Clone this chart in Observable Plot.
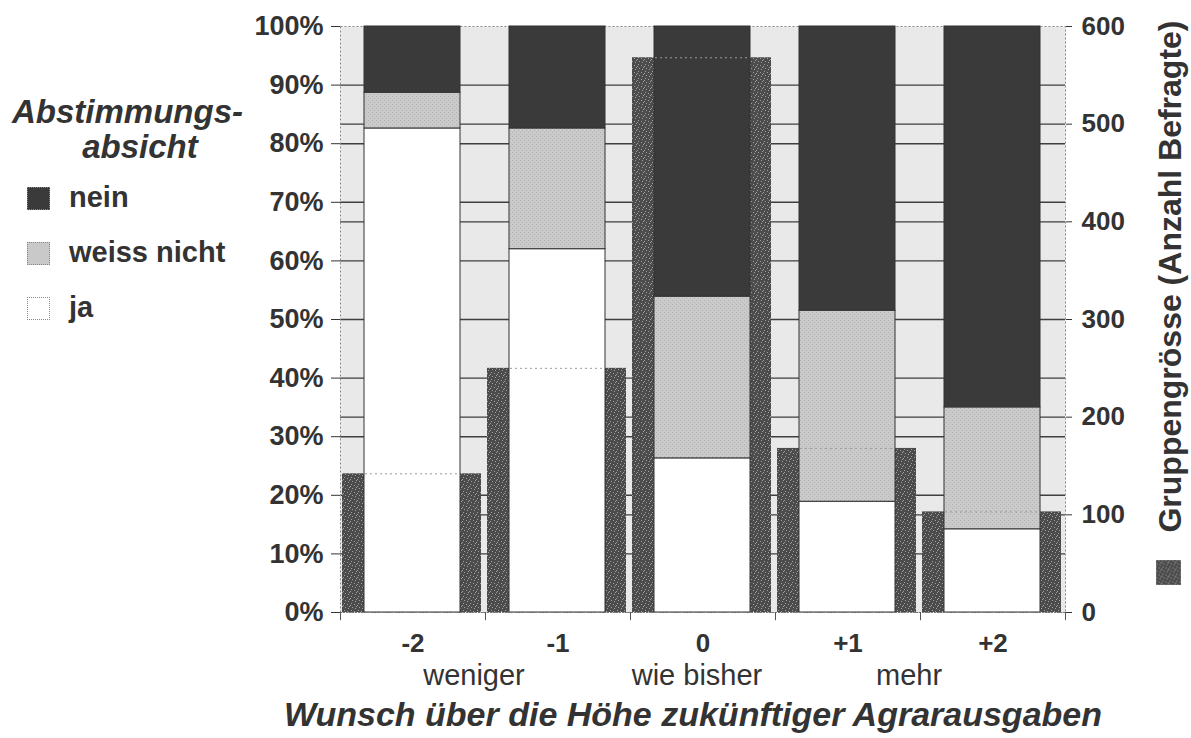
<!DOCTYPE html>
<html>
<head>
<meta charset="utf-8">
<script src="https://cdn.jsdelivr.net/npm/d3@7"></script>
<script src="https://cdn.jsdelivr.net/npm/@observablehq/plot@0.6"></script>
<style>
  body { margin: 0; background: #fff; }
  #wrap { position: relative; width: 1191px; height: 738px; overflow: hidden; font-family: "Liberation Sans", Arial, sans-serif; color: #333; }
  #chart { position: absolute; left: 0; top: 0; }
  .lt { position: absolute; font: italic bold 33px/1 "Liberation Sans", Arial, sans-serif; white-space: nowrap; text-align: center; }
  .li { position: absolute; left: 27px; height: 24px; }
  .li .sw { position: absolute; left: 0; top: 0; width: 23px; height: 23px; box-sizing: border-box; border: 1px dotted #888; }
  .li .tx { position: absolute; left: 42px; top: -4px; font: bold 29px/1 "Liberation Sans", Arial, sans-serif; white-space: nowrap; }
</style>
</head>
<body>
<div id="wrap">
  <div id="chart"></div>
  <div id="legend"></div>
</div>
<script>
// ---- data ----
const categories = ["-2", "-1", "0", "+1", "+2"];
const answers = ["nein", "weiss nicht", "ja"];          // legend order (top to bottom)
const pctJa = [82.6, 62.0, 26.3, 18.9, 14.2];
const pctWeissNicht = [6.1, 20.6, 27.6, 32.6, 20.8];
const pctNein = [11.3, 17.4, 46.1, 48.5, 65.0];
const groupSize = [142, 250, 568, 168, 103];             // Anzahl Befragte
const leftTicks = [0, 10, 20, 30, 40, 50, 60, 70, 80, 90, 100];
const rightTicks = [0, 100, 200, 300, 400, 500, 600];
const rightMax = 600;
const scaleWords = ["weniger", "wie bisher", "mehr"];
const scaleWordAt = ["-2", "0", "+1"];
const legendTitle = ["Abstimmungs-", "absicht"];
const xTitle = "Wunsch über die Höhe zukünftiger Agrarausgaben";
const rightTitle = "Gruppengrösse (Anzahl Befragte)";

// ---- tables built from the arrays ----
const pctRows = [];
categories.forEach((c, i) => {
  pctRows.push({cat: c, answer: "ja", value: pctJa[i]});
  pctRows.push({cat: c, answer: "weiss nicht", value: pctWeissNicht[i]});
  pctRows.push({cat: c, answer: "nein", value: pctNein[i]});
});
const countRows = categories.map((c, i) => ({cat: c, n: groupSize[i]}));
const toPct = n => n * 100 / rightMax;
const gridValues = Array.from(new Set([...leftTicks.slice(1, -1), ...rightTicks.slice(1, -1).map(toPct)]));
const wordRows = scaleWords.map((w, i) => ({word: w, cat: scaleWordAt[i]}));

const W = 1191, H = 738, mL = 340, mR = 126, mT = 26, mB = 126;
const band = (W - mL - mR) / categories.length;

const colorRange = {"ja": "#ffffff", "weiss nicht": "url(#stipple)", "nein": "#3a3a3a"};

const svg = Plot.plot({
  width: W, height: H,
  marginLeft: mL, marginRight: mR, marginTop: mT, marginBottom: mB,
  x: {domain: categories, padding: 0, axis: null, label: null},
  y: {domain: [0, 100], axis: null, label: null},
  color: {domain: ["ja", "weiss nicht", "nein"], range: ["ja", "weiss nicht", "nein"].map(k => colorRange[k])},
  style: {fontFamily: "'Liberation Sans', Arial, sans-serif", fontSize: "26px", fontWeight: "bold", color: "#333", background: "transparent", overflow: "visible"},
  marks: [
    Plot.frame({fill: "url(#bgpat)", stroke: "none"}),
    Plot.ruleY(gridValues, {stroke: "#3f3f3f", strokeWidth: 1.4}),
    Plot.frame({stroke: "#888", strokeDasharray: "2,2", strokeWidth: 1}),
    Plot.barY(countRows, {x: "cat", y: d => toPct(d.n), fill: "url(#speckle)", insetLeft: 2, insetRight: 4}),
    Plot.barY(pctRows, {x: "cat", y: "value", fill: "answer", stroke: "#333", strokeWidth: 1, insetLeft: 24, insetRight: 25}),
    Plot.tickY(countRows, {x: "cat", y: d => toPct(d.n), stroke: "#9a9a9a", strokeDasharray: "2,3", strokeWidth: 1, insetLeft: 25, insetRight: 26}),
    Plot.ruleY([0], {stroke: "#777", strokeDasharray: "2,1"}),
    Plot.axisY({anchor: "left", ticks: leftTicks, tickSize: 9, tickPadding: 8, tickFormat: d => d + "%", label: null, fontSize: 27, fontWeight: "bold"}),
    Plot.axisY({anchor: "right", ticks: rightTicks.map(toPct), tickSize: 6, tickPadding: 10, tickFormat: d => Math.round(d * rightMax / 100), label: null, fontSize: 26, fontWeight: "bold"}),
    Plot.axisX({anchor: "bottom", tickSize: 0, tickPadding: 21, label: null, fontSize: 26, fontWeight: "bold"}),
    Plot.ruleX(categories, {x: d => d, dx: -band / 2, y1: 0, y2: -1.4, stroke: "#555"}),
    Plot.ruleX(categories.slice(-1), {x: d => d, dx: band / 2, y1: 0, y2: -1.4, stroke: "#555"}),
    Plot.text(wordRows.filter(d => d.cat !== "0"), {x: "cat", text: "word", frameAnchor: "bottom", lineAnchor: "top", dx: 61, dy: 52, fontSize: 29, fontWeight: "normal", fill: "#333"}),
    Plot.text(wordRows.filter(d => d.cat === "0"), {x: "cat", text: "word", frameAnchor: "bottom", lineAnchor: "top", dx: -6, dy: 52, fontSize: 29, fontWeight: "normal", fill: "#333"}),
    Plot.text([xTitle], {frameAnchor: "bottom", textAnchor: "middle", lineAnchor: "top", dx: -10, dy: 89, fontSize: 34, fontWeight: "bold", fontStyle: "italic", fill: "#333"}),
    Plot.text([rightTitle], {frameAnchor: "right", textAnchor: "middle", rotate: -90, dx: 105, dy: -43, fontSize: 32, fontWeight: "bold", fill: "#333"}),
    Plot.dot([0], {frameAnchor: "bottom-right", dx: 103, dy: -40, symbol: "square", r: 14, fill: "url(#speckle)", stroke: "none"})
  ]
});

// texture patterns
const defs = d3.select(svg).insert("defs", ":first-child");
function pattern(id, size, bg, dotColor, dots) {
  const p = defs.append("pattern").attr("id", id).attr("patternUnits", "userSpaceOnUse")
    .attr("width", size).attr("height", size);
  p.append("rect").attr("width", size).attr("height", size).attr("fill", bg);
  dots.forEach(([x, y]) => p.append("rect").attr("x", x).attr("y", y).attr("width", 1).attr("height", 1).attr("fill", dotColor));
}
pattern("speckle", 7, "#4c4c4c", "#a0a0a0", [[1, 1], [4, 2], [2, 5], [6, 4], [5, 6], [0, 3]]);
pattern("stipple", 4, "#cacaca", "#b2b2b2", [[0, 0], [2, 2]]);
pattern("bgpat", 4, "#ebebeb", "#d9d9d9", [[1, 1], [3, 3]]);

document.getElementById("chart").appendChild(svg);

// legend (HTML)
const legend = document.getElementById("legend");
const lt1 = document.createElement("div");
lt1.className = "lt"; lt1.textContent = legendTitle[0];
lt1.style.left = "0px"; lt1.style.width = "255px"; lt1.style.top = "95px";
legend.appendChild(lt1);
const lt2 = document.createElement("div");
lt2.className = "lt"; lt2.textContent = legendTitle[1];
lt2.style.left = "0px"; lt2.style.width = "280px"; lt2.style.top = "130px";
legend.appendChild(lt2);
const swatchCss = {"nein": "#3a3a3a", "weiss nicht": "#c9c9c9", "ja": "#ffffff"};
answers.forEach((a, i) => {
  const item = document.createElement("div");
  item.className = "li";
  item.style.top = (187 + i * 55) + "px";
  const sw = document.createElement("div");
  sw.className = "sw"; sw.style.background = swatchCss[a];
  const tx = document.createElement("div");
  tx.className = "tx"; tx.textContent = a;
  item.appendChild(sw); item.appendChild(tx);
  legend.appendChild(item);
});
</script>
</body>
</html>
